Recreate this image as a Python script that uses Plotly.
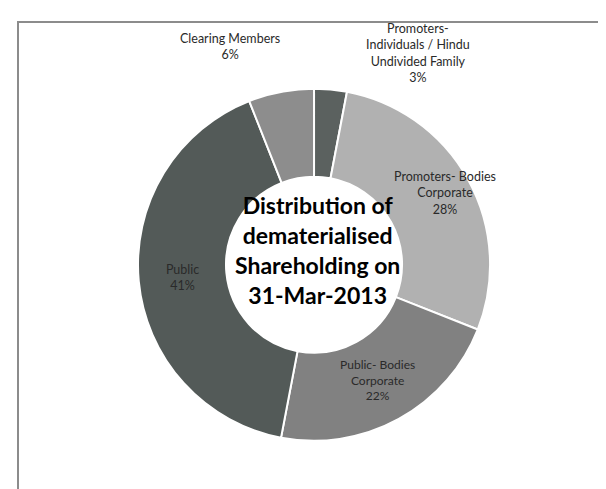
import plotly.graph_objects as go

categories = ["Promoters-<br>Individuals / Hindu<br>Undivided Family",
              "Promoters- Bodies<br>Corporate",
              "Public- Bodies<br>Corporate",
              "Public",
              "Clearing Members"]
values = [3, 28, 22, 41, 6]
colors = ["#5b615f", "#b1b1b1", "#818181", "#535a58", "#8d8d8d"]
# labels drawn by the pie itself ("inside") or as free text ("none")
text_positions = ["none", "none", "inside", "inside", "none"]
# free-text label placements (pixel centres) for the slices marked "none"
free_label_px = {0: (410, 45), 1: (437, 185), 4: (222, 39)}
title_text = "<b>Distribution of<br>dematerialised<br>Shareholding on<br>31-Mar-2013</b>"

W, H = 606, 489
LABEL_FONT = dict(family="Lato", size=12.5, color="#2a2a2a")

fig = go.Figure(go.Pie(
    labels=categories,
    values=values,
    sort=False,
    direction="clockwise",
    rotation=0,
    hole=0.5,
    marker=dict(colors=colors, line=dict(color="white", width=2)),
    textposition=text_positions,
    texttemplate="%{label}<br>%{percent:.0%}",
    textfont=LABEL_FONT,
    insidetextorientation="horizontal",
    showlegend=False,
    domain=dict(x=[0.18, 0.83], y=[0.115, 0.835]),
))

total = sum(values)
annotations = []
for i, (px, py) in free_label_px.items():
    annotations.append(dict(
        text=f"{categories[i]}<br>{round(100 * values[i] / total)}%",
        xref="paper", yref="paper", x=px / W, y=1 - py / H,
        xanchor="center", yanchor="middle", showarrow=False, align="center",
        font=LABEL_FONT))
annotations.append(dict(text=title_text, xref="paper", yref="paper",
                        x=309 / W, y=0.505, xanchor="center", yanchor="middle",
                        showarrow=False, align="center",
                        font=dict(family="Lato", size=23, color="black")))

fig.update_layout(
    width=W, height=H,
    margin=dict(l=0, r=0, t=0, b=0),
    paper_bgcolor="white",
    plot_bgcolor="white",
    shapes=[dict(type="rect", xref="paper", yref="paper",
                 x0=10 / W, x1=1.05, y0=-0.05, y1=1 - 14 / H,
                 line=dict(color="#8c8c8c", width=2), fillcolor="rgba(0,0,0,0)")],
    annotations=annotations,
)

fig.write_html("out.html")
